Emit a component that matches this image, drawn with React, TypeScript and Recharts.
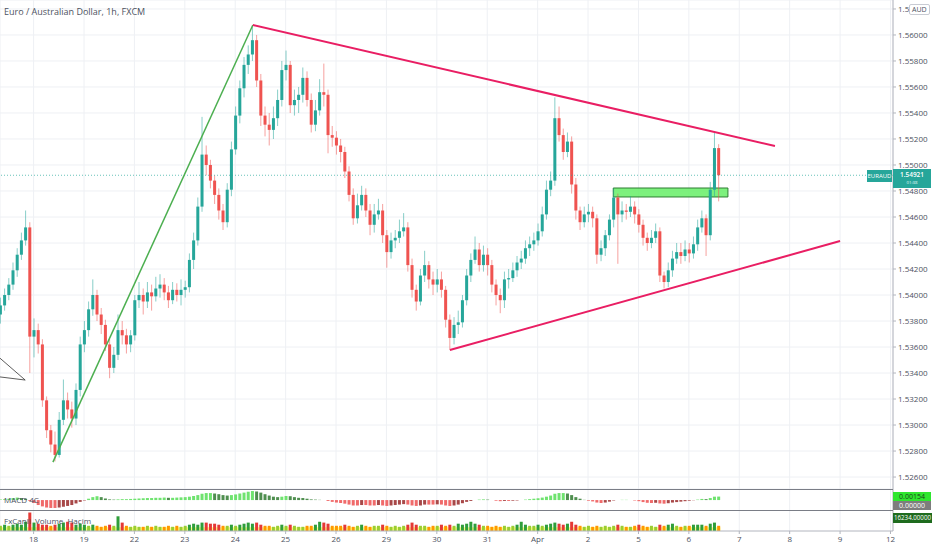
import React from 'react';
import { ComposedChart, Bar, XAxis, YAxis, CartesianGrid, ReferenceLine, ReferenceArea, Cell } from 'recharts';

// 2h candles, EUR/AUD, 17 Mar -> 6 Apr
const firstOpen = 1.5385;
const closes = [
  1.5392, 1.5400, 1.5408, 1.5419, 1.5431, 1.5442, 1.5452, 1.5368, 1.5373, 1.5362,
  1.5319, 1.5296, 1.5285, 1.5277, 1.5304, 1.5319, 1.5312, 1.5305, 1.5327, 1.5362,
  1.5373, 1.5389, 1.5400, 1.5385, 1.5377, 1.5362, 1.5344, 1.5354, 1.5373, 1.5369,
  1.5362, 1.5369, 1.5396, 1.5400, 1.5395, 1.5402, 1.5399, 1.5405, 1.5408, 1.5402,
  1.5396, 1.5404, 1.5400, 1.5404, 1.5406, 1.5427, 1.5442, 1.5468, 1.5508, 1.5500,
  1.5488, 1.5477, 1.5465, 1.5456, 1.5481, 1.5512, 1.5538, 1.5559, 1.5577, 1.5585,
  1.5596, 1.5565, 1.5538, 1.5531, 1.5527, 1.5536, 1.5550, 1.5573, 1.5577, 1.5546,
  1.5550, 1.5554, 1.5567, 1.5550, 1.5531, 1.5542, 1.5556, 1.5554, 1.5523, 1.5521,
  1.5515, 1.5510, 1.5495, 1.5477, 1.5459, 1.5469, 1.5477, 1.5465, 1.5454, 1.5462,
  1.5465, 1.5446, 1.5433, 1.5442, 1.5444, 1.5449, 1.5452, 1.5423, 1.5404, 1.5395,
  1.5415, 1.5423, 1.5412, 1.5408, 1.5412, 1.5404, 1.5381, 1.5367, 1.5377, 1.5379,
  1.5396, 1.5415, 1.5427, 1.5435, 1.5423, 1.5431, 1.5423, 1.5408, 1.5400, 1.5396,
  1.5412, 1.5413, 1.5419, 1.5425, 1.5428, 1.5436, 1.5439, 1.5442, 1.5449, 1.5462,
  1.5481, 1.5488, 1.5536, 1.5523, 1.5510, 1.5518, 1.5485, 1.5465, 1.5456, 1.5462,
  1.5464, 1.5459, 1.5431, 1.5436, 1.5446, 1.5458, 1.5475, 1.5462, 1.5465, 1.5464,
  1.5468, 1.5462, 1.5454, 1.5444, 1.5440, 1.5444, 1.5449, 1.5415, 1.5410, 1.5419,
  1.5428, 1.5433, 1.5430, 1.5435, 1.5432, 1.5439, 1.5452, 1.5459, 1.5446, 1.5481,
  1.5513, 1.54921,
];
const highs = [
  1.5398, 1.5405, 1.5413, 1.5425, 1.5436, 1.5448, 1.5465, 1.5456, 1.5382, 1.5378,
  1.5366, 1.5322, 1.5300, 1.5295, 1.5310, 1.5335, 1.5325, 1.5318, 1.5332, 1.5368,
  1.5380, 1.5395, 1.5412, 1.5404, 1.5390, 1.5381, 1.5366, 1.5360, 1.5385, 1.5380,
  1.5374, 1.5373, 1.5400, 1.5410, 1.5405, 1.5410, 1.5408, 1.5414, 1.5416, 1.5413,
  1.5407, 1.5410, 1.5409, 1.5412, 1.5411, 1.5432, 1.5448, 1.5475, 1.5537, 1.5515,
  1.5504, 1.5492, 1.5482, 1.5470, 1.5486, 1.5518, 1.5545, 1.5565, 1.5583, 1.5592,
  1.5607, 1.5600, 1.5570, 1.5545, 1.5540, 1.5545, 1.5558, 1.5580, 1.5588, 1.5580,
  1.5558, 1.5560, 1.5575, 1.5572, 1.5555, 1.5550, 1.5566, 1.5578, 1.5558, 1.5530,
  1.5526, 1.5520, 1.5514, 1.5499, 1.5482, 1.5478, 1.5484, 1.5482, 1.5470, 1.5470,
  1.5474, 1.5470, 1.5450, 1.5448, 1.5450, 1.5458, 1.5463, 1.5456, 1.5428, 1.5408,
  1.5420, 1.5434, 1.5426, 1.5418, 1.5420, 1.5418, 1.5407, 1.5385, 1.5383, 1.5388,
  1.5400, 1.5420, 1.5432, 1.5445, 1.5440, 1.5438, 1.5436, 1.5427, 1.5412, 1.5405,
  1.5418, 1.5420, 1.5425, 1.5430, 1.5434, 1.5442, 1.5445, 1.5448, 1.5455, 1.5468,
  1.5488, 1.5495, 1.5552, 1.5545, 1.5528, 1.5525, 1.5522, 1.5490, 1.5468, 1.5468,
  1.5470, 1.5468, 1.5462, 1.5442, 1.5450, 1.5462, 1.5482, 1.5478, 1.5472, 1.5470,
  1.5476, 1.5472, 1.5466, 1.5458, 1.5448, 1.5450, 1.5455, 1.5452, 1.5418, 1.5425,
  1.5434, 1.5440, 1.5440, 1.5442, 1.5440, 1.5445, 1.5458, 1.5465, 1.5462, 1.5487,
  1.5525, 1.5516,
];
const lows = [
  1.5378, 1.5388, 1.5396, 1.5404, 1.5414, 1.5427, 1.5438, 1.5340, 1.5352, 1.5355,
  1.5314, 1.5290, 1.5279, 1.5272, 1.5275, 1.5300, 1.5305, 1.5298, 1.5300, 1.5322,
  1.5356, 1.5368, 1.5384, 1.5380, 1.5370, 1.5357, 1.5336, 1.5340, 1.5350, 1.5362,
  1.5355, 1.5356, 1.5365, 1.5390, 1.5385, 1.5390, 1.5388, 1.5395, 1.5398, 1.5396,
  1.5390, 1.5393, 1.5395, 1.5392, 1.5398, 1.5402, 1.5420, 1.5438, 1.5464, 1.5492,
  1.5482, 1.5470, 1.5458, 1.5450, 1.5452, 1.5476, 1.5508, 1.5532, 1.5552, 1.5570,
  1.5580, 1.5560, 1.5530, 1.5522, 1.5515, 1.5520, 1.5530, 1.5545, 1.5565, 1.5540,
  1.5538, 1.5540, 1.5548, 1.5545, 1.5525, 1.5526, 1.5538, 1.5545, 1.5509, 1.5514,
  1.5508, 1.5502, 1.5490, 1.5472, 1.5454, 1.5455, 1.5465, 1.5460, 1.5446, 1.5448,
  1.5458, 1.5440, 1.5421, 1.5428, 1.5436, 1.5440, 1.5445, 1.5418, 1.5398, 1.5388,
  1.5392, 1.5410, 1.5405, 1.5400, 1.5402, 1.5398, 1.5375, 1.5358, 1.5362, 1.5370,
  1.5375, 1.5392, 1.5410, 1.5424, 1.5418, 1.5418, 1.5415, 1.5402, 1.5392, 1.5386,
  1.5390, 1.5405, 1.5410, 1.5414, 1.5420, 1.5424, 1.5430, 1.5434, 1.5438, 1.5445,
  1.5458, 1.5476, 1.5484, 1.5518, 1.5504, 1.5506, 1.5478, 1.5458, 1.5450, 1.5452,
  1.5456, 1.5452, 1.5424, 1.5426, 1.5430, 1.5442, 1.5452, 1.5424, 1.5456, 1.5458,
  1.5460, 1.5455, 1.5448, 1.5438, 1.5434, 1.5436, 1.5440, 1.5410, 1.5405, 1.5406,
  1.5414, 1.5424, 1.5424, 1.5426, 1.5425, 1.5428, 1.5434, 1.5448, 1.5430, 1.5442,
  1.5476, 1.5472,
];
const macdHist = [
  0.0002, 0.0004, 0.0006, 0.0009, 0.0011, 0.0009, 0.0006, -0.0004, -0.0013, -0.0022,
  -0.0028, -0.0033, -0.0035, -0.0035, -0.0033, -0.0030, -0.0026, -0.0022, -0.0015, -0.0008,
  -0.0002, 0.0006, 0.0013, 0.0017, 0.0013, 0.0007, 0.0003, 0.0002, 0.0003, 0.0004,
  0.0004, 0.0005, 0.0006, 0.0007, 0.0008, 0.0009, 0.0009, 0.0010, 0.0010, 0.0011,
  0.0010, 0.0010, 0.0011, 0.0012, 0.0013, 0.0015, 0.0018, 0.0022, 0.0028, 0.0031,
  0.0031, 0.0029, 0.0026, 0.0022, 0.0020, 0.0022, 0.0025, 0.0029, 0.0033, 0.0037,
  0.0040, 0.0038, 0.0033, 0.0026, 0.0020, 0.0015, 0.0013, 0.0015, 0.0018, 0.0017,
  0.0013, 0.0010, 0.0009, 0.0006, 0.0003, 0.0002, 0.0001, 0.0000, -0.0004, -0.0008,
  -0.0011, -0.0013, -0.0016, -0.0020, -0.0024, -0.0024, -0.0022, -0.0022, -0.0024, -0.0024,
  -0.0022, -0.0024, -0.0026, -0.0024, -0.0022, -0.0020, -0.0018, -0.0020, -0.0024, -0.0026,
  -0.0024, -0.0020, -0.0020, -0.0020, -0.0019, -0.0020, -0.0024, -0.0026, -0.0024, -0.0020,
  -0.0014, -0.0008, -0.0004, 0.0000, 0.0002, 0.0003, 0.0002, 0.0000, -0.0003, -0.0005,
  -0.0004, -0.0004, -0.0003, -0.0002, 0.0000, 0.0002, 0.0004, 0.0006, 0.0008, 0.0011,
  0.0015, 0.0020, 0.0028, 0.0031, 0.0031, 0.0029, 0.0022, 0.0013, 0.0006, 0.0001,
  -0.0003, -0.0006, -0.0011, -0.0013, -0.0011, -0.0007, -0.0002, 0.0000, 0.0001, 0.0001,
  0.0000, -0.0002, -0.0005, -0.0009, -0.0012, -0.0013, -0.0012, -0.0015, -0.0016, -0.0014,
  -0.0011, -0.0009, -0.0007, -0.0005, -0.0003, -0.0001, 0.0002, 0.0005, 0.0004, 0.0009,
  0.0015, 0.00154,
];
const volumes = [
  6200, 7500, 6200, 7500, 8700, 7500, 11000, 22000, 10000, 8700,
  7500, 7500, 6200, 7500, 8700, 10000, 11000, 10000, 7500, 8700,
  7500, 6200, 7500, 6200, 5000, 6200, 7500, 6200, 17500, 10000,
  6200, 5000, 6200, 5000, 5000, 6200, 5000, 6200, 5000, 5000,
  6200, 5000, 6200, 5000, 6200, 7500, 8700, 7500, 10000, 10000,
  8700, 8700, 7500, 6200, 6200, 7500, 6200, 7500, 8700, 10000,
  8700, 10000, 7500, 6200, 6200, 5000, 6200, 7500, 6200, 7500,
  6200, 5000, 5000, 6200, 6200, 7500, 11000, 10000, 8700, 6200,
  6200, 6200, 7500, 6200, 5000, 6200, 7500, 6200, 5000, 6200,
  6200, 7500, 6200, 5000, 6200, 5000, 6200, 7500, 10000, 7500,
  6200, 6200, 5000, 6200, 6200, 7500, 6200, 7500, 6200, 8700,
  7500, 8700, 11000, 8700, 7500, 6200, 6200, 5000, 6200, 5000,
  6200, 5000, 6200, 7500, 11000, 7500, 6200, 6200, 7500, 6200,
  7500, 8700, 10000, 8700, 7500, 8700, 11000, 7500, 6200, 5000,
  6200, 5000, 6200, 5000, 6200, 5000, 6200, 7500, 6200, 5000,
  5000, 6200, 7500, 6200, 5000, 6200, 5000, 7500, 6200, 7500,
  8700, 6200, 5000, 6200, 6200, 7500, 7500, 7500, 6200, 8700,
  10000, 6200,
];

const dayTicks = [8, 20, 32, 44, 56, 68, 80, 92, 104, 116, 128, 140, 152, 164, 176, 188, 200, 212];
const dayLabels = ['18', '19', '22', '23', '24', '25', '26', '29', '30', '31', 'Apr', '2', '5', '6', '7', '8', '9', '12'];
const priceTicks = [1.526, 1.528, 1.53, 1.532, 1.534, 1.536, 1.538, 1.54, 1.542, 1.544, 1.546, 1.548, 1.55, 1.552, 1.554, 1.556, 1.558, 1.56, 1.562];

// drawings (index, price)
const greenTrend = [{ x: 12.6, y: 1.52715 }, { x: 60.2, y: 1.56077 }];
const upperTrend = [{ x: 60.2, y: 1.56077 }, { x: 184.5, y: 1.55146 }];
const lowerTrend = [{ x: 107.1, y: 1.53577 }, { x: 200, y: 1.54415 }];
const wedgeA = [{ x: 0, y: 1.53514 }, { x: 6, y: 1.53346 }];
const wedgeB = [{ x: 0, y: 1.5337 }, { x: 6, y: 1.53346 }];
const zone = { x1: 146, x2: 173.3, y1: 1.54754, y2: 1.54823 };
const lastPrice = 1.54921;

const X_DOMAIN: [number, number] = [0, 212.6];
const PRICE_DOMAIN: [number, number] = [1.52508, 1.56269];
const MACD_DOMAIN: [number, number] = [-0.0044, 0.0049];
const VOL_DOMAIN: [number, number] = [0, 25000];

const UP = '#26a69a';
const DOWN = '#ef5350';
const AXIS = '#b2b5be';
const GRID = '#eef0f4';
const TEXT = '#4c525e';
const FONT = "'Open Sans', 'Noto Sans', sans-serif";

const rows = closes.map((c, i) => {
  const o = i === 0 ? firstOpen : closes[i - 1];
  return { i, o, c, h: highs[i], l: lows[i], range: [lows[i], highs[i]], macd: macdHist[i], vol: volumes[i] };
});

function Candle(props: any) {
  const { x, y, width, height } = props;
  const d = props.payload ?? props;
  if (height == null || isNaN(height)) return null;
  const up = d.c >= d.o;
  const color = up ? UP : DOWN;
  const k = height / (d.h - d.l);
  const top = y + (d.h - Math.max(d.o, d.c)) * k;
  const bot = y + (d.h - Math.min(d.o, d.c)) * k;
  const cx = x + width / 2;
  return (
    <g>
      <line x1={cx} x2={cx} y1={y} y2={y + height} stroke={color} strokeOpacity={0.55} strokeWidth={1} />
      <rect x={x} y={top} width={width} height={Math.max(1, bot - top)} fill={color} />
    </g>
  );
}

function macdColor(i: number) {
  const v = macdHist[i];
  const prev = i > 0 ? macdHist[i - 1] : 0;
  if (v >= 0) return v >= prev ? '#6fe36f' : '#4f8f4f';
  return v <= prev ? '#f06a6a' : '#a84848';
}

function volColor(i: number) {
  const r = rows[i];
  const high = r.vol > 7000;
  if (r.c >= r.o) return high ? '#2f9e3a' : '#9acd32';
  return high ? '#e53935' : '#ff9800';
}

// top label is cut by the currency badge, as in the original
const priceLabel = (v: number) => (v >= 1.562 ? '1.5' : v.toFixed(5));

const box = (style: React.CSSProperties): React.CSSProperties => ({
  position: 'absolute', fontFamily: FONT, lineHeight: 1, whiteSpace: 'nowrap', ...style,
});

export default function App() {
  const margin = { top: 0, right: 0, bottom: 0, left: 0 };
  return (
    <div style={{ position: 'absolute', left: 0, top: 0, width: 932, height: 550, background: '#fff', overflow: 'hidden' }}>
      {/* price panel */}
      <div style={{ position: 'absolute', left: 0, top: 0 }}>
        <ComposedChart width={932} height={489} data={rows} margin={margin}>
          <CartesianGrid stroke={GRID} />
          <XAxis type="number" dataKey="i" domain={X_DOMAIN} ticks={dayTicks} allowDataOverflow hide />
          <YAxis
            orientation="right" type="number" domain={PRICE_DOMAIN} ticks={priceTicks} allowDataOverflow
            width={39} interval={0} tickSize={3} tickMargin={2}
            tick={{ fontSize: 8, fill: TEXT, fontFamily: FONT }}
            tickFormatter={priceLabel} stroke={AXIS}
          />
          <ReferenceLine y={lastPrice} stroke={UP} strokeDasharray="1 2" strokeOpacity={0.7} />
          <Bar dataKey="range" barSize={3} shape={Candle} isAnimationActive={false} />
          <ReferenceArea x1={zone.x1} x2={zone.x2} y1={zone.y1} y2={zone.y2} fill="#66ee66" fillOpacity={0.85} stroke="#2e7d32" strokeWidth={1} />
          <ReferenceLine segment={greenTrend} stroke="#4caf50" strokeWidth={1.5} />
          <ReferenceLine segment={upperTrend} stroke="#e91e63" strokeWidth={2} />
          <ReferenceLine segment={lowerTrend} stroke="#e91e63" strokeWidth={2} />
          <ReferenceLine segment={wedgeA} stroke="#333" strokeWidth={0.8} />
          <ReferenceLine segment={wedgeB} stroke="#333" strokeWidth={0.8} />
        </ComposedChart>
      </div>

      {/* MACD panel */}
      <div style={{ position: 'absolute', left: 0, top: 489 }}>
        <ComposedChart width={932} height={21} data={rows} margin={margin}>
          <CartesianGrid stroke={GRID} horizontal={false} />
          <XAxis type="number" dataKey="i" domain={X_DOMAIN} ticks={dayTicks} allowDataOverflow hide />
          <YAxis orientation="right" type="number" domain={MACD_DOMAIN} allowDataOverflow width={39} tick={false} tickLine={false} stroke={AXIS} />
          <Bar dataKey="macd" barSize={3} isAnimationActive={false}>
            {rows.map((r) => <Cell key={r.i} fill={macdColor(r.i)} />)}
          </Bar>
        </ComposedChart>
      </div>

      {/* volume panel + time axis */}
      <div style={{ position: 'absolute', left: 0, top: 510 }}>
        <ComposedChart width={932} height={40} data={rows} margin={margin}>
          <CartesianGrid stroke={GRID} horizontal={false} />
          <XAxis
            type="number" dataKey="i" domain={X_DOMAIN} ticks={dayTicks} allowDataOverflow height={19}
            interval={0} tickSize={3} tick={{ fontSize: 8, fill: TEXT, fontFamily: FONT }}
            tickFormatter={(v: number) => dayLabels[dayTicks.indexOf(v)] ?? ''} stroke={AXIS}
          />
          <YAxis orientation="right" type="number" domain={VOL_DOMAIN} allowDataOverflow width={39} tick={false} tickLine={false} stroke={AXIS} />
          <ReferenceArea x1={0} x2={171.5} y1={0} y2={4500} fill="#ffff55" fillOpacity={0.75} strokeOpacity={0} />
          <Bar dataKey="vol" barSize={3} isAnimationActive={false}>
            {rows.map((r) => <Cell key={r.i} fill={volColor(r.i)} />)}
          </Bar>
        </ComposedChart>
      </div>

      {/* panel separators */}
      <div style={{ position: 'absolute', left: 0, top: 489, width: 893, height: 1, background: '#7a7d86' }} />
      <div style={{ position: 'absolute', left: 0, top: 510, width: 893, height: 1, background: '#7a7d86' }} />

      {/* texts */}
      <div style={box({ left: 4, top: 7, fontSize: 9, color: TEXT })}>Euro / Australian Dollar, 1h, FXCM</div>
      <div style={box({ left: 909, top: 4, fontSize: 7, color: TEXT, background: '#fff', border: '1px solid #c8cbd3', borderRadius: 2, padding: '1px 2px' })}>AUD</div>

      <div style={box({ left: 867, top: 170, width: 25, height: 12, background: UP, color: '#fff', fontSize: 6, display: 'flex', alignItems: 'center', justifyContent: 'center' })}>EURAUD</div>
      {/* last price badge */}
      <div style={{ position: 'absolute', left: 893, top: 169, width: 38, height: 19, background: UP }} />
      <div style={box({ left: 893, top: 171.5, width: 38, textAlign: 'center', color: '#fff', fontSize: 6.5, lineHeight: '6.5px', fontWeight: 600 })}>{lastPrice.toFixed(5)}</div>
      <div style={box({ left: 893, top: 180.2, width: 38, textAlign: 'center', color: '#e8fffb', fontSize: 4.3, lineHeight: '4.3px' })}>01:38</div>

      <div style={box({ left: 4, top: 496, fontSize: 8, color: TEXT })}>MACD 4C</div>
      <div style={box({ left: 4, top: 517, fontSize: 8, color: TEXT })}>FxCanli&nbsp; Volume&nbsp; Hacim</div>

      <div style={box({ left: 893, top: 492, width: 38, height: 9, background: '#2ee62e', color: '#1b3d1b', fontSize: 7, display: 'flex', alignItems: 'center', justifyContent: 'center' })}>0.00154</div>
      <div style={box({ left: 893, top: 501, width: 38, height: 9, background: '#7d7d7d', color: '#fff', fontSize: 7, display: 'flex', alignItems: 'center', justifyContent: 'center' })}>0.00000</div>
      <div style={box({ left: 893, top: 513, width: 39, height: 10, background: '#1e6b1e', color: '#fff', fontSize: 6.2, display: 'flex', alignItems: 'center', justifyContent: 'center' })}>16234.00000</div>
    </div>
  );
}
